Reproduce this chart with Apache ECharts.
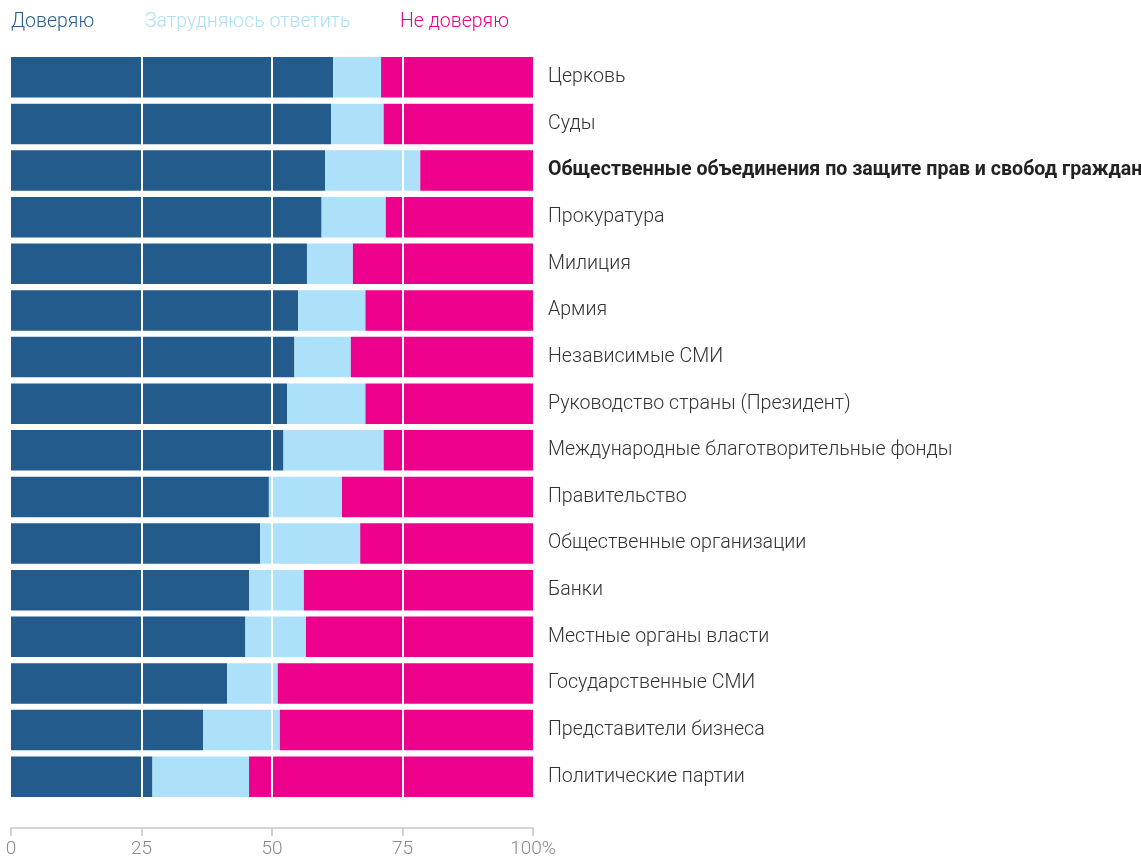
<!DOCTYPE html>
<html>
<head>
<meta charset="utf-8">
<script src="https://cdn.jsdelivr.net/npm/echarts@6/dist/echarts.min.js"></script>
<style>
  html, body { margin: 0; padding: 0; background: #fff; }
  #chart { width: 1141px; height: 856px; }
</style>
</head>
<body>
<div id="chart"></div>
<script>
// институты, сверху вниз
var categories = [
    'Церковь', 'Суды', 'Общественные объединения по защите прав и свобод граждан',
    'Прокуратура', 'Милиция', 'Армия', 'Независимые СМИ',
    'Руководство страны (Президент)', 'Международные благотворительные фонды',
    'Правительство', 'Общественные организации', 'Банки',
    'Местные органы власти', 'Государственные СМИ', 'Представители бизнеса',
    'Политические партии'
];
var trust   = [61.7, 61.3, 60.2, 59.5, 56.7, 55.0, 54.3, 52.9, 52.2, 49.4, 47.7, 45.6, 44.9, 41.4, 36.8, 27.1];
var unsure  = [ 9.2, 10.1, 18.2, 12.3,  8.8, 12.9, 10.8, 15.0, 19.2, 14.0, 19.2, 10.5, 11.6,  9.7, 14.7, 18.5];
var distrust = [29.1, 28.6, 21.6, 28.2, 34.5, 32.1, 34.9, 32.1, 28.6, 36.6, 33.1, 43.9, 43.5, 48.9, 48.5, 54.4];
var xTicks = [0, 25, 50, 75, 100];

var boldLabel = 'Общественные объединения по защите прав и свобод граждан';
var font = 'Roboto';

var chart = echarts.init(document.getElementById('chart'));

function legendItem(name, color, left) {
    return {
        left: left, top: 7,
        icon: 'none', itemWidth: 0, itemGap: 0,
        selectedMode: false,
        data: [name],
        textStyle: { color: color, fontSize: 19.5, fontWeight: 300, fontFamily: font, padding: 0 }
    };
}

var options = {
    animation: false,
    legend: [
        legendItem('Доверяю', '#2a5d8e', 1),
        legendItem('Затрудняюсь ответить', '#aee0f8', 135),
        legendItem('Не доверяю', '#ec008c', 390)
    ],
    grid: { left: 11, right: 608, top: 54, bottom: 56, containLabel: false, outerBoundsMode: 'none' },
    xAxis: {
        type: 'value', min: 0, max: 100, interval: 25,
        offset: 28,
        axisLine: { show: true, lineStyle: { color: '#c8c8c8', width: 1.5 } },
        axisTick: { show: true, length: 8, lineStyle: { color: '#c8c8c8', width: 1.5 } },
        splitLine: { show: false },
        axisLabel: {
            color: '#8a8a8a', fontSize: 19, fontWeight: 300, fontFamily: font, margin: 12,
            formatter: function (v) { return v === 100 ? '100%' : String(v); }
        }
    },
    yAxis: {
        type: 'category', inverse: true, position: 'right',
        data: categories,
        axisLine: { show: false }, axisTick: { show: false },
        axisLabel: {
            margin: 15, fontSize: 19.6, fontWeight: 300, fontFamily: font, color: '#333',
            align: 'left',
            formatter: function (v) { return v === boldLabel ? '{b|' + v + '}' : v; },
            rich: { b: { fontWeight: 'bold', fontSize: 19.6, fontFamily: font, color: '#222' } }
        }
    },
    series: [
        { name: 'Доверяю', type: 'bar', stack: 'all', data: trust, barCategoryGap: '13%',
          itemStyle: { color: '#225b8c' } },
        { name: 'Затрудняюсь ответить', type: 'bar', stack: 'all', data: unsure,
          itemStyle: { color: '#ace1f9' } },
        { name: 'Не доверяю', type: 'bar', stack: 'all', data: distrust,
          itemStyle: { color: '#ec008c' },
          markLine: {
              silent: true, symbol: 'none', z: 10,
              label: { show: false },
              lineStyle: { color: '#ffffff', width: 2, type: 'solid' },
              data: xTicks.slice(1, 4).map(function (v) { return { xAxis: v }; })
          } }
    ]
};
chart.setOption(options);
</script>
</body>
</html>
